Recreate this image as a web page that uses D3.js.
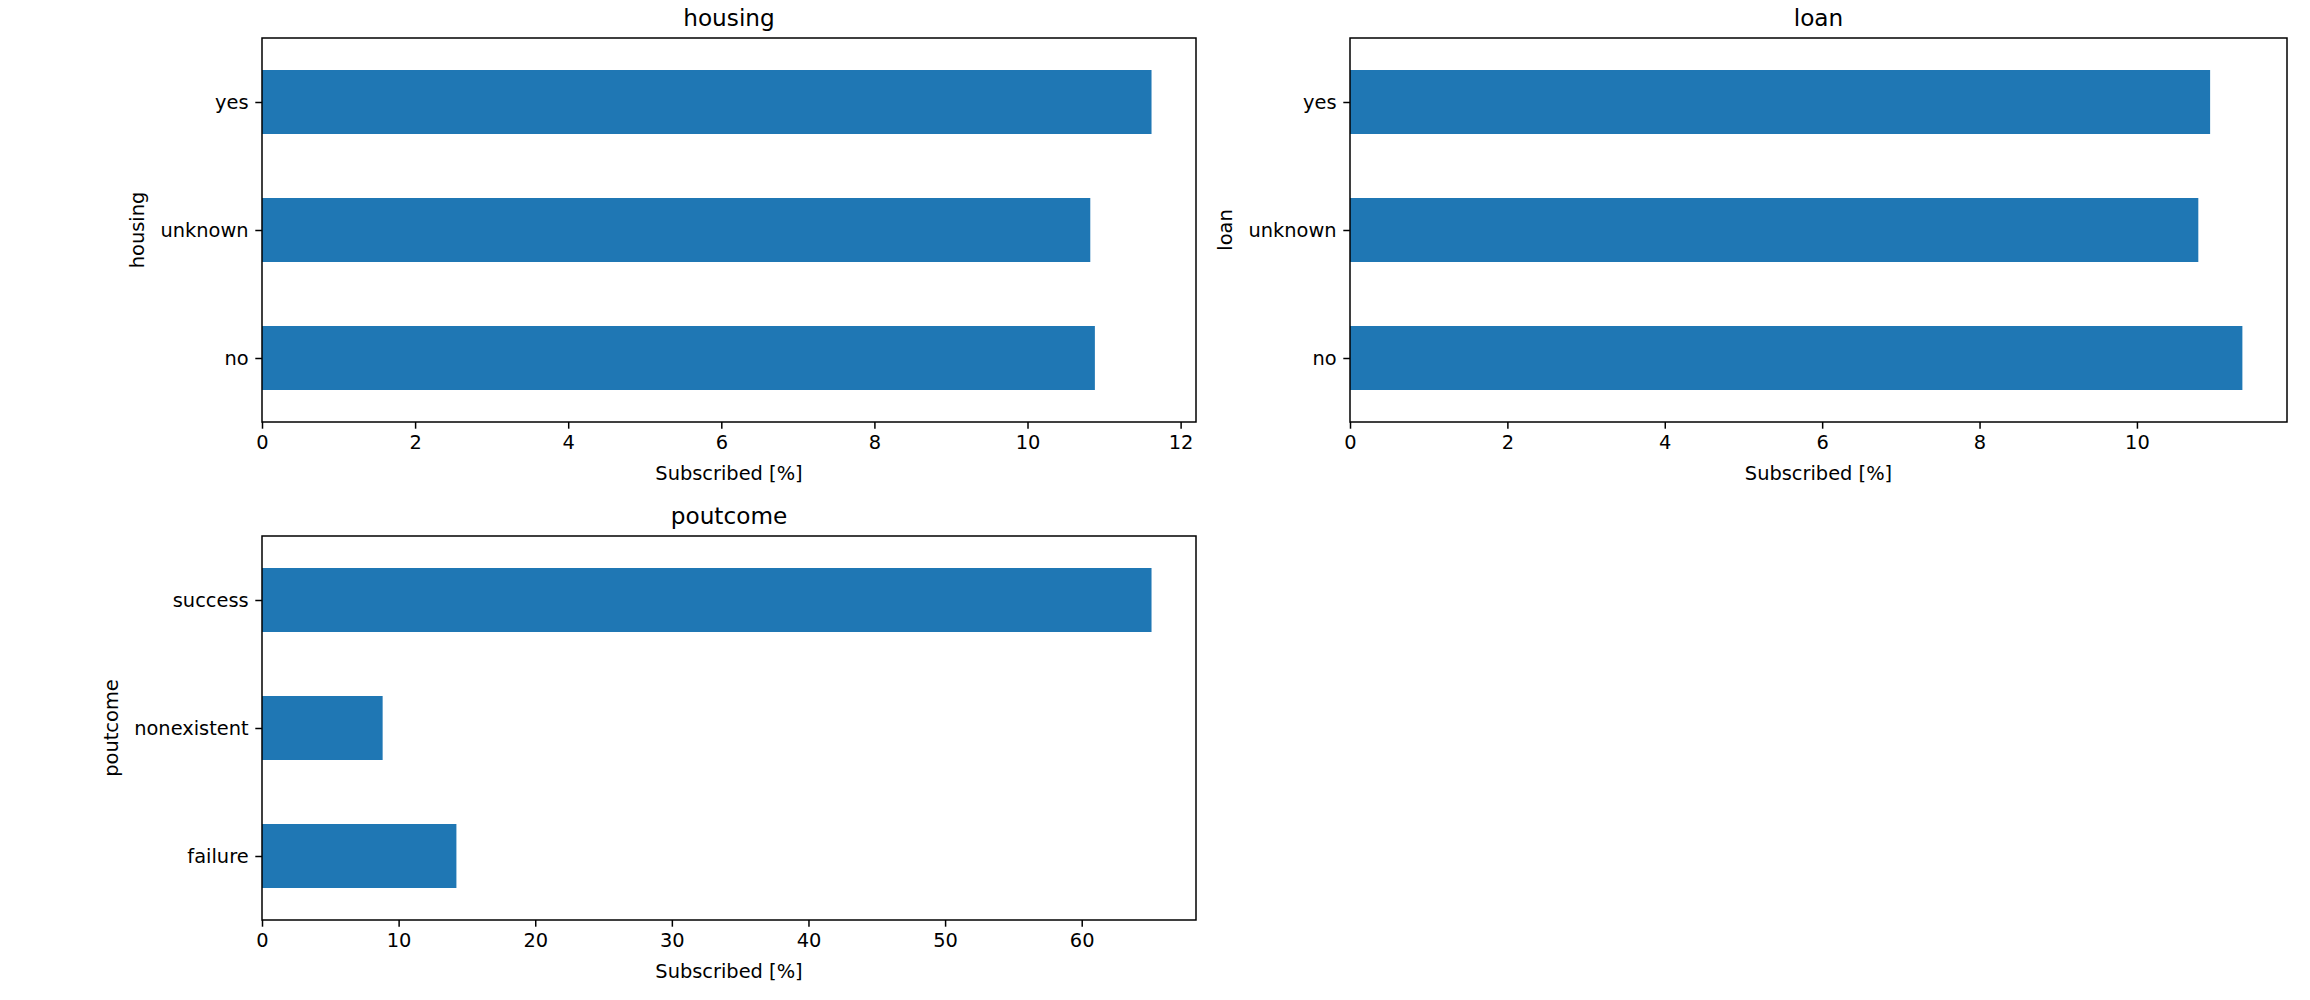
<!DOCTYPE html>
<html>
<head>
<meta charset="utf-8">
<script src="https://cdn.jsdelivr.net/npm/d3@7"></script>
<style>
  html, body { margin: 0; padding: 0; background: #fff; }
  svg { display: block; }
  text { font-family: "DejaVu Sans", sans-serif; fill: #000; }
</style>
</head>
<body>
<svg id="chart" width="2310" height="1000"></svg>
<script>
// ---- data ----
const housingCategories = ["no", "unknown", "yes"];
const housingValues = [10.88, 10.82, 11.62];
const housingTicks = [0, 2, 4, 6, 8, 10, 12];

const loanCategories = ["no", "unknown", "yes"];
const loanValues = [11.34, 10.78, 10.93];
const loanTicks = [0, 2, 4, 6, 8, 10];

const poutcomeCategories = ["failure", "nonexistent", "success"];
const poutcomeValues = [14.23, 8.83, 65.11];
const poutcomeTicks = [0, 10, 20, 30, 40, 50, 60];

const xLabel = "Subscribed [%]";

// ---- layout ----
const panels = [
  { title: "housing", cats: housingCategories, vals: housingValues, ticks: housingTicks, x: 262, y: 38, w: 934, h: 384 },
  { title: "loan", cats: loanCategories, vals: loanValues, ticks: loanTicks, x: 1350, y: 38, w: 937, h: 384 },
  { title: "poutcome", cats: poutcomeCategories, vals: poutcomeValues, ticks: poutcomeTicks, x: 262, y: 536, w: 934, h: 384 }
];

const FS = 19.4;        // tick / label font size
const TFS = 23.2;       // title font size
const TICK = 6.7, PAD = 6.7, LW = 1.5;
const barColor = "#1f77b4";

const svg = d3.select("#chart");
svg.append("rect").attr("width", 2310).attr("height", 1000).attr("fill", "#fff");

panels.forEach(p => {
  const g = svg.append("g").attr("transform", `translate(${p.x},${p.y})`);
  const xMax = d3.max(p.vals) * 1.05;
  const x = d3.scaleLinear().domain([0, xMax]).range([0, p.w]);
  const y = d3.scaleLinear().domain([-0.5, p.cats.length - 0.5]).range([p.h, 0]);
  const barH = 0.5;

  // bars
  g.selectAll("rect.bar").data(p.vals).enter().append("rect")
    .attr("class", "bar")
    .attr("x", x(0))
    .attr("y", (d, i) => y(i + barH / 2))
    .attr("width", d => x(d) - x(0))
    .attr("height", (d, i) => y(i - barH / 2) - y(i + barH / 2))
    .attr("fill", barColor);

  // x axis
  const xAxis = d3.axisBottom(x).tickValues(p.ticks).tickFormat(d3.format("d"))
    .tickSize(TICK).tickPadding(PAD).tickSizeOuter(0);
  const gx = g.append("g").attr("transform", `translate(0,${p.h})`).call(xAxis);
  gx.select(".domain").remove();
  gx.selectAll("line").attr("stroke", "#000").attr("stroke-width", LW);
  gx.selectAll("text").style("font-size", FS + "px").attr("fill", "#000")
    .attr("font-family", "DejaVu Sans");

  // y axis
  const yAxis = d3.axisLeft(y).tickValues(d3.range(p.cats.length)).tickFormat(i => p.cats[i])
    .tickSize(TICK).tickPadding(PAD).tickSizeOuter(0);
  const gy = g.append("g").call(yAxis);
  gy.select(".domain").remove();
  gy.selectAll("line").attr("stroke", "#000").attr("stroke-width", LW);
  gy.selectAll("text").style("font-size", FS + "px").attr("fill", "#000")
    .attr("font-family", "DejaVu Sans");

  // spines
  g.append("rect").attr("x", 0).attr("y", 0).attr("width", p.w).attr("height", p.h)
    .attr("fill", "none").attr("stroke", "#000").attr("stroke-width", LW);

  // title
  g.append("text").attr("x", p.w / 2).attr("y", -12)
    .attr("text-anchor", "middle").style("font-size", TFS + "px").text(p.title);

  // x label
  g.append("text").attr("x", p.w / 2).attr("y", p.h + 58)
    .attr("text-anchor", "middle").style("font-size", FS + "px").text(xLabel);

  // y label, placed left of widest tick label
  let maxW = 0;
  gy.selectAll("text").each(function () { maxW = Math.max(maxW, this.getComputedTextLength()); });
  const bx = -(TICK + PAD + maxW + 7.6 + 8.5);
  g.append("text")
    .attr("transform", `translate(${bx},${p.h / 2}) rotate(-90)`)
    .attr("text-anchor", "middle").style("font-size", FS + "px").text(p.title);
});
</script>
</body>
</html>
